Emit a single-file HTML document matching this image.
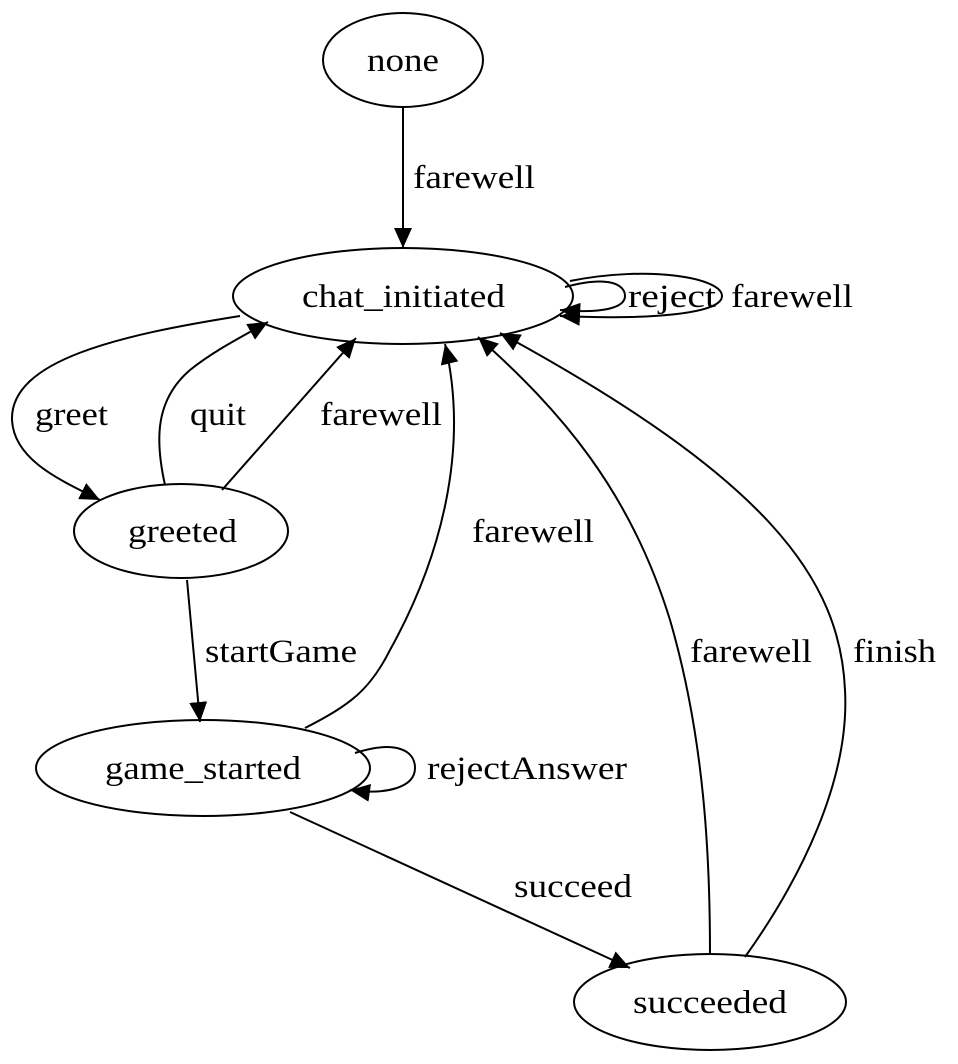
<!DOCTYPE html>
<html><head><meta charset="utf-8"><style>html,body{margin:0;padding:0;background:#fff}svg{display:block}</style></head>
<body>
<svg width="958" height="1064" viewBox="0 0 958 1064" xmlns="http://www.w3.org/2000/svg">
<defs>
<marker id="b" markerWidth="22" markerHeight="18" refX="20" refY="9" orient="auto" markerUnits="userSpaceOnUse"><path d="M0,0 L20,9 L0,18 z" fill="#000"/></marker></defs>
<g fill="none" stroke="#000" stroke-width="2">
<ellipse cx="403" cy="60" rx="80" ry="47"/>
<ellipse cx="403" cy="296" rx="170" ry="48"/>
<ellipse cx="181" cy="531" rx="107" ry="47"/>
<ellipse cx="203" cy="768" rx="167" ry="48"/>
<ellipse cx="710" cy="1002" rx="136" ry="48"/>
<path d="M403,107 L403,248" marker-end="url(#b)"/>
<path d="M565,287 C610,275 625,285 625,296 C625,307 605,314 560,310" marker-end="url(#b)"/>
<path d="M570,281 C650,265 722,278 722,296 C722,314 650,320 560,316" marker-end="url(#b)"/>
<path d="M240,316 C120,335 10,360 12,420 C14,460 60,480 100,500" marker-end="url(#b)"/>
<path d="M165,485 C155,440 155,400 190,370 C215,350 245,335 268,322" marker-end="url(#b)"/>
<path d="M222,490 L356,338" marker-end="url(#b)"/>
<path d="M305,728 C350,705 370,690 390,650 C440,560 470,450 445,344" marker-end="url(#b)"/>
<path d="M710,954 C710,860 705,740 670,620 C630,490 560,410 478,337" marker-end="url(#b)"/>
<path d="M745,957 C800,880 850,780 845,690 C840,580 770,480 500,333" marker-end="url(#b)"/>
<path d="M187,580 L200,722" marker-end="url(#b)"/>
<path d="M355,753 C395,740 415,750 415,768 C415,788 385,795 350,790" marker-end="url(#b)"/>
<path d="M290,812 L630,968" marker-end="url(#b)"/>
</g>
<g font-family="Liberation Serif, serif" font-size="33" fill="#000" lengthAdjust="spacingAndGlyphs">
<text x="367" y="71" textLength="72" lengthAdjust="spacingAndGlyphs">none</text>
<text x="302" y="307" textLength="203" lengthAdjust="spacingAndGlyphs">chat_initiated</text>
<text x="128" y="542" textLength="109" lengthAdjust="spacingAndGlyphs">greeted</text>
<text x="105" y="779" textLength="196" lengthAdjust="spacingAndGlyphs">game_started</text>
<text x="633" y="1013" textLength="154" lengthAdjust="spacingAndGlyphs">succeeded</text>
<text x="413" y="188" textLength="122" lengthAdjust="spacingAndGlyphs">farewell</text>
<text x="628" y="307" textLength="88" lengthAdjust="spacingAndGlyphs">reject</text>
<text x="731" y="307" textLength="122" lengthAdjust="spacingAndGlyphs">farewell</text>
<text x="35" y="425" textLength="73" lengthAdjust="spacingAndGlyphs">greet</text>
<text x="190" y="425" textLength="56" lengthAdjust="spacingAndGlyphs">quit</text>
<text x="320" y="425" textLength="122" lengthAdjust="spacingAndGlyphs">farewell</text>
<text x="472" y="542" textLength="122" lengthAdjust="spacingAndGlyphs">farewell</text>
<text x="205" y="662" textLength="152" lengthAdjust="spacingAndGlyphs">startGame</text>
<text x="690" y="662" textLength="122" lengthAdjust="spacingAndGlyphs">farewell</text>
<text x="853" y="662" textLength="83" lengthAdjust="spacingAndGlyphs">finish</text>
<text x="427" y="779" textLength="200" lengthAdjust="spacingAndGlyphs">rejectAnswer</text>
<text x="514" y="897" textLength="118" lengthAdjust="spacingAndGlyphs">succeed</text>
</g>
</svg>
</body></html>
